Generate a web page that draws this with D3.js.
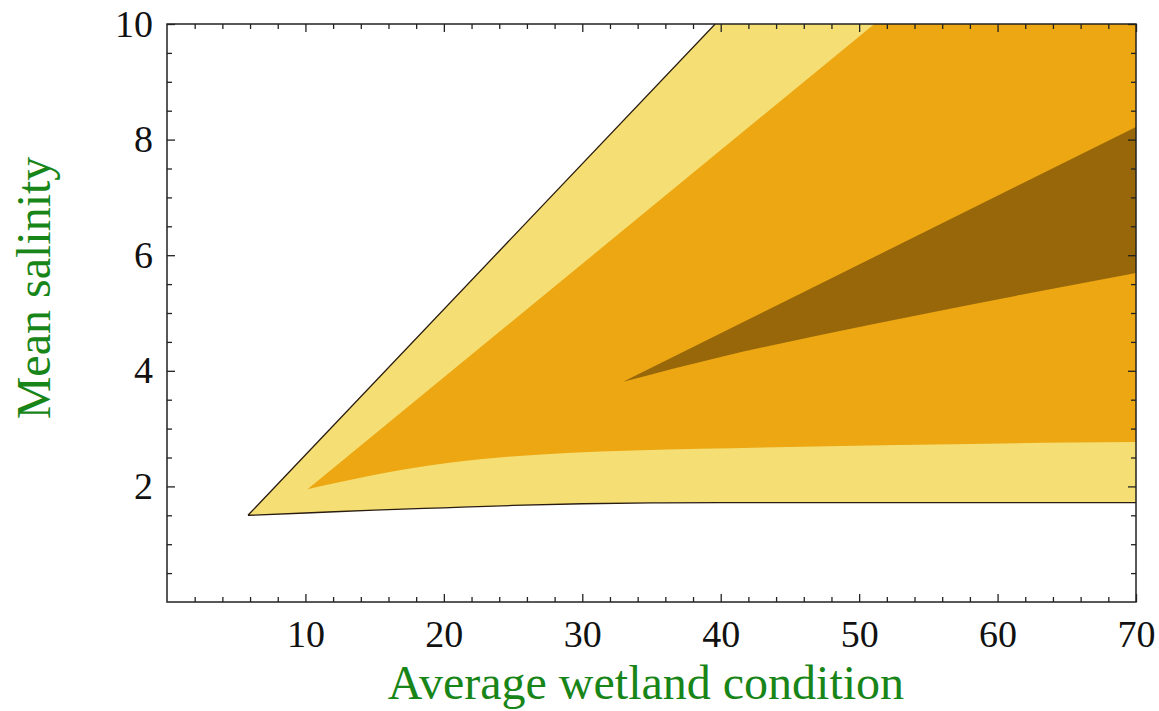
<!DOCTYPE html>
<html>
<head>
<meta charset="utf-8">
<script src="https://cdn.jsdelivr.net/npm/d3@7"></script>
<style>
  body { margin: 0; background: #fff; }
  .ticks text { font-family: "Liberation Serif", "Times New Roman", serif; font-size: 38px; fill: #111; }
  .ticks line { stroke: #222; stroke-width: 1.3; }
  .ticks .domain { display: none; }
  .axislabel { font-family: "Liberation Serif", "Times New Roman", serif; font-size: 48px; fill: #188518; }
</style>
</head>
<body>
<div id="my_dataviz"></div>
<script>
// contour band edges, as [wetland condition, salinity]
var outerUpper = [[5.85, 1.5], [39.6, 10]];
var outerLower = [[5.85, 1.5], [10, 1.54], [15, 1.59], [20, 1.63], [25, 1.67], [30, 1.7], [35, 1.715], [40, 1.72], [70, 1.72]];
var midUpper = [[10.15, 1.95], [51.1, 10]];
var midLower = [[10.15, 1.95], [12, 2.05], [14.4, 2.17], [19.2, 2.37], [24, 2.5], [28.9, 2.58], [33.7, 2.62], [38.5, 2.65], [48.8, 2.7], [56.8, 2.73], [65.2, 2.76], [70, 2.77]];
var darkUpper = [[32.95, 3.81], [70, 8.22]];
var darkLower = [[32.95, 3.81], [40, 4.24], [47.2, 4.62], [54.4, 4.97], [61.6, 5.31], [70, 5.69]];

var xTicks = [10, 20, 30, 40, 50, 60, 70];
var yTicks = [2, 4, 6, 8, 10];

var margin = {top: 24, right: 23, bottom: 109, left: 167},
  width = 1159 - margin.left - margin.right,
  height = 711 - margin.top - margin.bottom;

var svg = d3.select("#my_dataviz")
  .append("svg")
  .attr("width", 1159)
  .attr("height", 711)
  .append("g")
  .attr("transform", "translate(" + margin.left + "," + margin.top + ")");

var x = d3.scaleLinear().domain([0, 70]).range([0, width]);
var y = d3.scaleLinear().domain([0, 10]).range([height, 0]);

svg.append("clipPath").attr("id", "plotclip")
  .append("rect").attr("width", width).attr("height", height);

var straight = d3.line()
  .x(function(d) { return x(d[0]); })
  .y(function(d) { return y(d[1]); });

var smooth = d3.line()
  .curve(d3.curveMonotoneX)
  .x(function(d) { return x(d[0]); })
  .y(function(d) { return y(d[1]); });

// band = curved lower edge out to the right, then back along the straight upper edge
function bandPath(lower, upperBack) {
  return smooth(lower) + straight(upperBack).replace(/^M/, "L") + "Z";
}

var bands = [
  {d: bandPath(outerLower, [[70, 10]].concat(outerUpper.slice().reverse())), color: "#f5df74"},
  {d: bandPath(midLower, [[70, 10]].concat(midUpper.slice().reverse())), color: "#eca713"},
  {d: bandPath(darkLower, darkUpper.slice().reverse()), color: "#976709"}
];

var plot = svg.append("g").attr("clip-path", "url(#plotclip)");

plot.selectAll("path.band")
  .data(bands)
  .enter()
  .append("path")
  .attr("class", "band")
  .attr("d", function(d) { return d.d; })
  .attr("fill", function(d) { return d.color; });

// outline of the outer contour
plot.append("path")
  .attr("d", smooth(outerLower) + " " + straight(outerUpper))
  .attr("fill", "none")
  .attr("stroke", "#2a1c10")
  .attr("stroke-width", 1.3);

// minor ticks
var xMinor = x.ticks(35).filter(function(v) { return v % 10 != 0; });
var yMinor = y.ticks(20).filter(function(v) { return v % 2 != 0 && v > 0; });

svg.append("g").attr("class", "ticks")
  .attr("transform", "translate(0," + height + ")")
  .call(d3.axisBottom(x).tickValues(xMinor).tickSize(-5).tickSizeOuter(0).tickFormat(""));
svg.append("g").attr("class", "ticks")
  .call(d3.axisTop(x).tickValues(xMinor).tickSize(-5).tickSizeOuter(0).tickFormat(""));
svg.append("g").attr("class", "ticks")
  .call(d3.axisLeft(y).tickValues(yMinor).tickSize(-5).tickSizeOuter(0).tickFormat(""));
svg.append("g").attr("class", "ticks")
  .attr("transform", "translate(" + width + ",0)")
  .call(d3.axisRight(y).tickValues(yMinor).tickSize(-5).tickSizeOuter(0).tickFormat(""));

// major ticks with labels
svg.append("g").attr("class", "ticks")
  .attr("transform", "translate(0," + height + ")")
  .call(d3.axisBottom(x).tickValues(xTicks).tickSize(-8).tickSizeOuter(0).tickPadding(18));
svg.append("g").attr("class", "ticks")
  .call(d3.axisTop(x).tickValues(xTicks).tickSize(-8).tickSizeOuter(0).tickFormat(""));
svg.append("g").attr("class", "ticks")
  .call(d3.axisLeft(y).tickValues(yTicks).tickSize(-8).tickSizeOuter(0).tickPadding(14));
svg.append("g").attr("class", "ticks")
  .attr("transform", "translate(" + width + ",0)")
  .call(d3.axisRight(y).tickValues(yTicks).tickSize(-8).tickSizeOuter(0).tickFormat(""));

// frame
svg.append("rect")
  .attr("width", width)
  .attr("height", height)
  .attr("fill", "none")
  .attr("stroke", "#222")
  .attr("stroke-width", 1.5);

// axis titles
svg.append("text")
  .attr("x", 646 - margin.left)
  .attr("y", 699 - margin.top)
  .style("text-anchor", "middle")
  .text("Average wetland condition").attr("class", "axislabel");

svg.append("text")
  .attr("transform", "translate(" + (50 - margin.left) + "," + (288 - margin.top) + ")rotate(-90)")
  .style("text-anchor", "middle")
  .text("Mean salinity").attr("class", "axislabel");
</script>
</body>
</html>
